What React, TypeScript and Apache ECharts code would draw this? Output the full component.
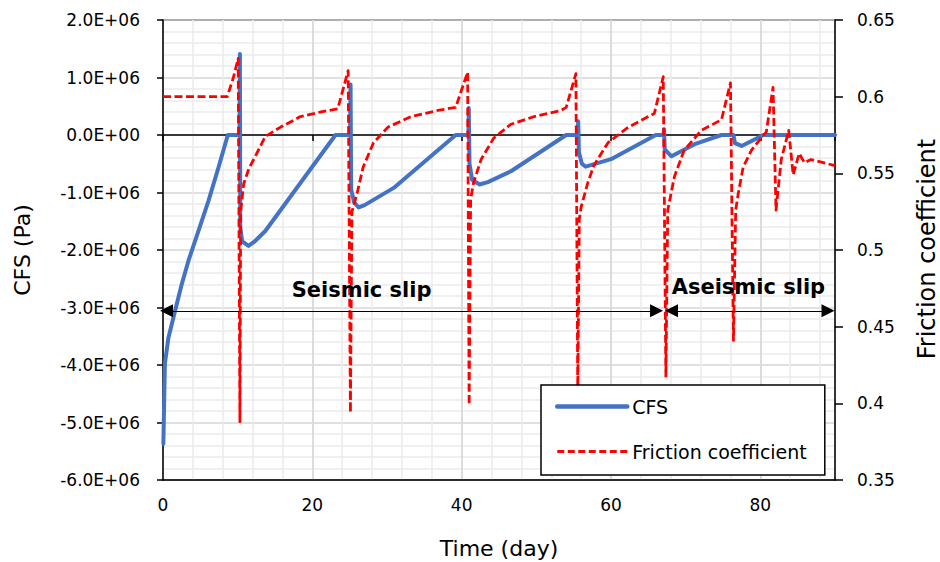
import React, { useEffect, useRef } from "react";
import * as echarts from "echarts";

// ---- Data ----
const cfsDays = [
  0.05, 0.25, 0.72, 1.61, 2.5, 3.4, 4.74, 6.08, 7.42, 8.68,
  10.25, 10.3, 10.35, 10.6, 11.45, 12.2, 13.7, 23.1,
  25.05, 25.12, 25.2, 25.6, 26.2, 27.0, 30.9, 39.2,
  40.9, 40.95, 41.05, 41.4, 42.4, 43.5, 46.6, 54.0,
  55.55, 55.6, 55.7, 56.1, 56.6, 60.0, 66.0,
  67.05, 67.1, 67.2, 68.1, 71.2, 74.8,
  76.4, 76.6, 77.5, 80.4, 90,
];
const cfsValues = [
  -5.37e6, -3.98e6, -3.53e6, -3.06e6, -2.6e6, -2.19e6, -1.67e6, -1.15e6, -0.57e6, 0,
  0, 1.41e6, -1.6e6, -1.85e6, -1.93e6, -1.86e6, -1.67e6, 0,
  0, 0.88e6, -0.95e6, -1.17e6, -1.26e6, -1.22e6, -0.92e6, 0,
  0, 0.47e6, -0.5e6, -0.78e6, -0.86e6, -0.82e6, -0.63e6, 0,
  0, 0.24e6, -0.3e6, -0.5e6, -0.55e6, -0.42e6, 0,
  0, 0.1e6, -0.25e6, -0.37e6, -0.16e6, 0,
  0, -0.14e6, -0.19e6, 0, 0,
];

const frictionDays = [
  0, 8.6, 9.4, 10.07, 10.3, 10.4, 10.8, 11.5, 12.35, 13.7, 15.7, 18.4, 21.1, 23.4,
  24.8, 25.1, 25.3, 26.0, 26.8, 28.2, 30.1, 33.2, 36.8, 39.2,
  40.8, 41.0, 41.2, 41.6, 42.6, 44.3, 46.6, 49.7, 53.3, 54.0,
  55.3, 55.55, 55.75, 56.0, 56.9, 57.7, 59.6, 62.3, 65.0, 65.8,
  67.0, 67.35, 67.6, 68.5, 69.8, 72.1, 74.8,
  76.0, 76.4, 76.7, 77.05, 77.7, 78.8, 80.1, 80.8,
  81.7, 82.1, 82.8, 83.8, 84.4, 85.2, 85.9, 86.8, 90,
];
const frictionValues = [
  0.6, 0.6, 0.612, 0.625, 0.388, 0.525, 0.543, 0.553, 0.561, 0.574, 0.58, 0.587, 0.59, 0.592,
  0.617, 0.394, 0.525, 0.537, 0.554, 0.57, 0.58, 0.587, 0.591, 0.593,
  0.616, 0.399, 0.533, 0.544, 0.559, 0.573, 0.582, 0.587, 0.591, 0.593,
  0.615, 0.407, 0.52, 0.528, 0.544, 0.555, 0.57, 0.58, 0.587, 0.589,
  0.613, 0.417, 0.526, 0.548, 0.565, 0.578, 0.585,
  0.609, 0.441, 0.526, 0.537, 0.554, 0.565, 0.573, 0.577,
  0.606, 0.526, 0.559, 0.578, 0.549, 0.563, 0.557, 0.559, 0.555,
];

// annotation positions (data units: day, friction coefficient)
const arrowLevel = 0.4603;
const seismicArrow = [0.47, 66.1];
const aseismicArrow = [68.1, 89.06];
const annotations = [
  { name: "Seismic slip", day: 26.6, level: 0.4739 },
  { name: "Aseismic slip", day: 78.4, level: 0.4759 },
];

const xTitle = "Time (day)";
const yLeftTitle = "CFS (Pa)";
const yRightTitle = "Friction coefficient";

const FONT = '"DejaVu Sans", sans-serif';
const BLUE = "#4472C4";
const RED = "#FF0000";

function fmtSci(v: number): string {
  if (v === 0) return "0.0E+00";
  const s = v < 0 ? "-" : "";
  return s + (Math.abs(v) / 1e6).toFixed(1) + "E+06";
}

export default function App() {
  const ref = useRef<HTMLDivElement>(null);
  useEffect(() => {
    if (!ref.current) return;
    const chart = echarts.init(ref.current, undefined, { renderer: "svg" });
    const cfsData = cfsDays.map((d, i) => [d, cfsValues[i]]);
    const frData = frictionDays.map((d, i) => [d, frictionValues[i]]);
    const axisLineStyle = { color: "#000", width: 1.5 };
    const labelStyle = { fontSize: 17, color: "#000", fontFamily: FONT };
    chart.setOption({
      animation: false,
      backgroundColor: "#fff",
      grid: {
        left: 163,
        right: 105,
        top: 20,
        bottom: 82,
        show: true,
        borderColor: "#000",
        borderWidth: 1.5,
        backgroundColor: "transparent",
      },
      xAxis: [
        {
          type: "value",
          min: 0,
          max: 90,
          interval: 4,
          position: "bottom",
          axisLine: { show: false, onZero: false },
          axisTick: { show: false },
          axisLabel: { show: false },
          splitLine: { show: true, lineStyle: { color: "#EBEBEB", width: 1.5 } },
        },
        {
          type: "value",
          min: 0,
          max: 90,
          interval: 20,
          position: "bottom",
          axisLine: { show: true, onZero: false, lineStyle: axisLineStyle },
          axisTick: { show: false },
          axisLabel: { ...labelStyle, margin: 16, showMaxLabel: false },
          splitLine: { show: true, lineStyle: { color: "#D6D6D6", width: 1.5 } },
        },
        {
          type: "value",
          min: 0,
          max: 90,
          interval: 20,
          position: "bottom",
          axisLine: { show: true, onZero: true, onZeroAxisIndex: 0, lineStyle: axisLineStyle },
          axisTick: { show: true, length: 6, lineStyle: axisLineStyle },
          axisLabel: { show: false },
          splitLine: { show: false },
        },
      ],
      yAxis: [
        {
          type: "value",
          position: "left",
          min: -6e6,
          max: 2e6,
          interval: 1e6,
          axisLine: { show: true, onZero: false, lineStyle: axisLineStyle },
          axisTick: { show: true, length: 6, lineStyle: axisLineStyle },
          axisLabel: { ...labelStyle, margin: 23, formatter: (v: number) => fmtSci(v) },
          splitLine: { show: true, lineStyle: { color: "#D6D6D6", width: 1.5 } },
          minorTick: { show: false, splitNumber: 5 },
          minorSplitLine: { show: true, lineStyle: { color: "#EBEBEB", width: 1.5 } },
        },
        {
          type: "value",
          position: "right",
          min: 0.35,
          max: 0.65,
          interval: 0.05,
          axisLine: { show: true, onZero: false, lineStyle: axisLineStyle },
          axisTick: { show: true, length: 8, lineStyle: axisLineStyle },
          axisLabel: { ...labelStyle, margin: 22, formatter: (v: number) => String(+v.toFixed(2)) },
          splitLine: { show: false },
        },
      ],
      legend: {
        orient: "vertical",
        left: 541,
        top: 385,
        itemWidth: 70,
        itemHeight: 14,
        itemGap: 26,
        padding: [12, 18, 14, 14],
        borderColor: "#000",
        borderWidth: 1.5,
        backgroundColor: "#fff",
        itemStyle: { opacity: 0, color: "transparent", borderWidth: 0 },
        textStyle: { fontSize: 19, fontFamily: FONT, color: "#000" },
        data: [
          { name: "CFS", lineStyle: { color: BLUE, width: 4.5, cap: "round" } },
          { name: "Friction coefficient", lineStyle: { color: RED, width: 2.8, type: [7, 3.5] } },
        ],
      },
      series: [
        {
          name: "CFS",
          type: "line",
          xAxisIndex: 1,
          yAxisIndex: 0,
          data: cfsData,
          symbol: "none",
          showSymbol: false,
          lineStyle: { color: BLUE, width: 4, cap: "round", join: "round" },
          itemStyle: { color: BLUE },
        },
        {
          name: "Friction coefficient",
          type: "line",
          xAxisIndex: 1,
          yAxisIndex: 1,
          data: frData,
          symbol: "none",
          showSymbol: false,
          lineStyle: { color: RED, width: 2.8, type: [8, 3.5], join: "round" },
          itemStyle: { color: RED },
          markLine: {
            silent: true,
            symbol: ["triangle", "triangle"],
            symbolSize: [13, 13],
            lineStyle: { color: "#000", width: 1.2, type: "solid" },
            itemStyle: { color: "#000" },
            label: { show: false },
            emphasis: { disabled: true },
            data: [
              [{ coord: [seismicArrow[0], arrowLevel] }, { coord: [seismicArrow[1], arrowLevel] }],
              [{ coord: [aseismicArrow[0], arrowLevel] }, { coord: [aseismicArrow[1], arrowLevel] }],
            ],
          },
          markPoint: {
            silent: true,
            symbol: "circle",
            symbolSize: 1,
            itemStyle: { color: "transparent" },
            label: {
              show: true,
              position: "inside",
              formatter: "{b}",
              fontSize: 21,
              fontWeight: "bold",
              color: "#000",
              fontFamily: FONT,
            },
            data: annotations.map((a) => ({ name: a.name, coord: [a.day, a.level] })),
          },
        },
      ],
      graphic: [
        {
          type: "text",
          x: 22,
          y: 250,
          rotation: Math.PI / 2,
          style: { text: yLeftTitle, fontSize: 22, fontFamily: FONT, fill: "#000", align: "center", verticalAlign: "middle" },
        },
        {
          type: "text",
          x: 927,
          y: 249,
          rotation: Math.PI / 2,
          style: { text: yRightTitle, fontSize: 24, fontFamily: FONT, fill: "#000", align: "center", verticalAlign: "middle" },
        },
        {
          type: "text",
          x: 499,
          y: 548,
          style: { text: xTitle, fontSize: 22, fontFamily: FONT, fill: "#000", align: "center", verticalAlign: "middle" },
        },
      ],
    });
    return () => chart.dispose();
  }, []);
  return (
    <div
      ref={ref}
      style={{ position: "fixed", left: 0, top: 0, width: 940, height: 562, background: "#fff" }}
    />
  );
}
